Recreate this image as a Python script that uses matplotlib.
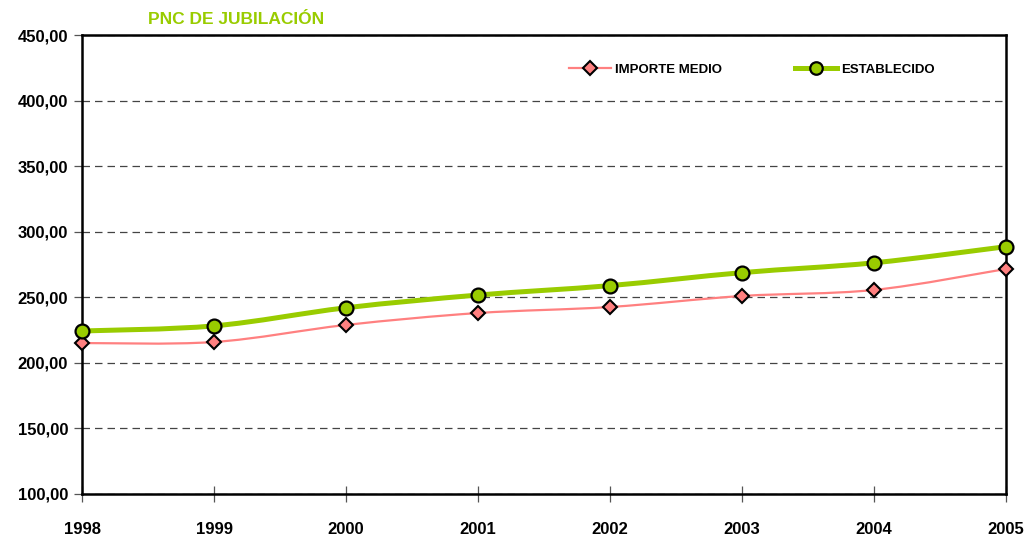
import matplotlib
matplotlib.use("Agg")
import matplotlib.pyplot as plt
from matplotlib.path import Path
from matplotlib.patches import PathPatch
from matplotlib.lines import Line2D
from matplotlib.ticker import FuncFormatter

years = [1998, 1999, 2000, 2001, 2002, 2003, 2004, 2005]
importe_medio = [215.1, 215.9, 228.9, 238.0, 242.6, 251.0, 255.6, 271.6]
establecido = [224.3, 228.2, 242.0, 251.7, 258.9, 268.8, 276.3, 288.6]

PINK = "#ff8080"
GREEN = "#99cc00"

plt.rcParams["font.family"] = ["Liberation Sans", "DejaVu Sans"]
plt.rcParams["font.weight"] = "bold"


def smooth_path(xs, ys):
    # Catmull-Rom style bezier, similar to spreadsheet "smoothed line"
    pts = list(zip(xs, ys))
    verts = [pts[0]]
    codes = [Path.MOVETO]
    n = len(pts)
    for i in range(n - 1):
        p0 = pts[i - 1] if i > 0 else pts[i]
        p1 = pts[i]
        p2 = pts[i + 1]
        p3 = pts[i + 2] if i + 2 < n else pts[i + 1]
        c1 = (p1[0] + (p2[0] - p0[0]) / 6, p1[1] + (p2[1] - p0[1]) / 6)
        c2 = (p2[0] - (p3[0] - p1[0]) / 6, p2[1] - (p3[1] - p1[1]) / 6)
        verts += [c1, c2, p2]
        codes += [Path.CURVE4] * 3
    return Path(verts, codes)


fig = plt.figure(figsize=(10.27, 5.36), dpi=100)
ax = fig.add_axes([82 / 1027, 1 - 494 / 536, (1006 - 82) / 1027, (494 - 35) / 536])

ax.add_patch(PathPatch(smooth_path(years, importe_medio), fill=False,
                       edgecolor=PINK, lw=1.6, zorder=3))
ax.add_patch(PathPatch(smooth_path(years, establecido), fill=False,
                       edgecolor=GREEN, lw=3.6, zorder=3))
ax.plot(years, importe_medio, linestyle="none", marker="D", ms=7.5,
        mfc=PINK, mec="black", mew=1.5, zorder=5, clip_on=False)
ax.plot(years, establecido, linestyle="none", marker="o", ms=10,
        mfc=GREEN, mec="black", mew=1.6, zorder=5, clip_on=False)

ax.set_xlim(1998, 2005)
ax.set_ylim(100, 450)
ax.set_yticks(range(100, 451, 50))
ax.set_xticks(years)
ax.yaxis.set_major_formatter(FuncFormatter(lambda v, p: f"{v:.2f}".replace(".", ",")))
ax.grid(axis="y", color="#444444", linestyle=(0, (6, 4)), lw=0.9)
ax.set_axisbelow(True)

for s in ax.spines.values():
    s.set_linewidth(1.8)
    s.set_color("black")

ax.tick_params(axis="y", direction="out", length=6, width=0.9, color="#555555",
               labelsize=12, pad=4)
ax.tick_params(axis="x", direction="inout", length=12, width=0.9, color="#555555",
               labelsize=12, pad=14)
for lab in ax.get_xticklabels() + ax.get_yticklabels():
    lab.set_fontweight("bold")

fig.text(148 / 1027, 1 - 19 / 536, "PNC DE JUBILACIÓN", color=GREEN,
         fontsize=12.5, fontweight="bold", va="center", ha="left")

handles = [
    Line2D([], [], color=PINK, lw=1.6, marker="D", ms=7, mfc=PINK,
           mec="black", mew=1.5),
    Line2D([], [], color=GREEN, lw=3.6, marker="o", ms=9, mfc=GREEN,
           mec="black", mew=1.6),
]
ax.legend(handles, ["IMPORTE MEDIO", "ESTABLECIDO"], ncol=2, frameon=False,
          loc="center", bbox_to_anchor=((752 - 82) / 924, (494 - 70) / 459),
          prop={"weight": "bold", "size": 9.5}, handlelength=3.2,
          handletextpad=0.3, columnspacing=5.5)

fig.savefig("out.png", dpi=100)
